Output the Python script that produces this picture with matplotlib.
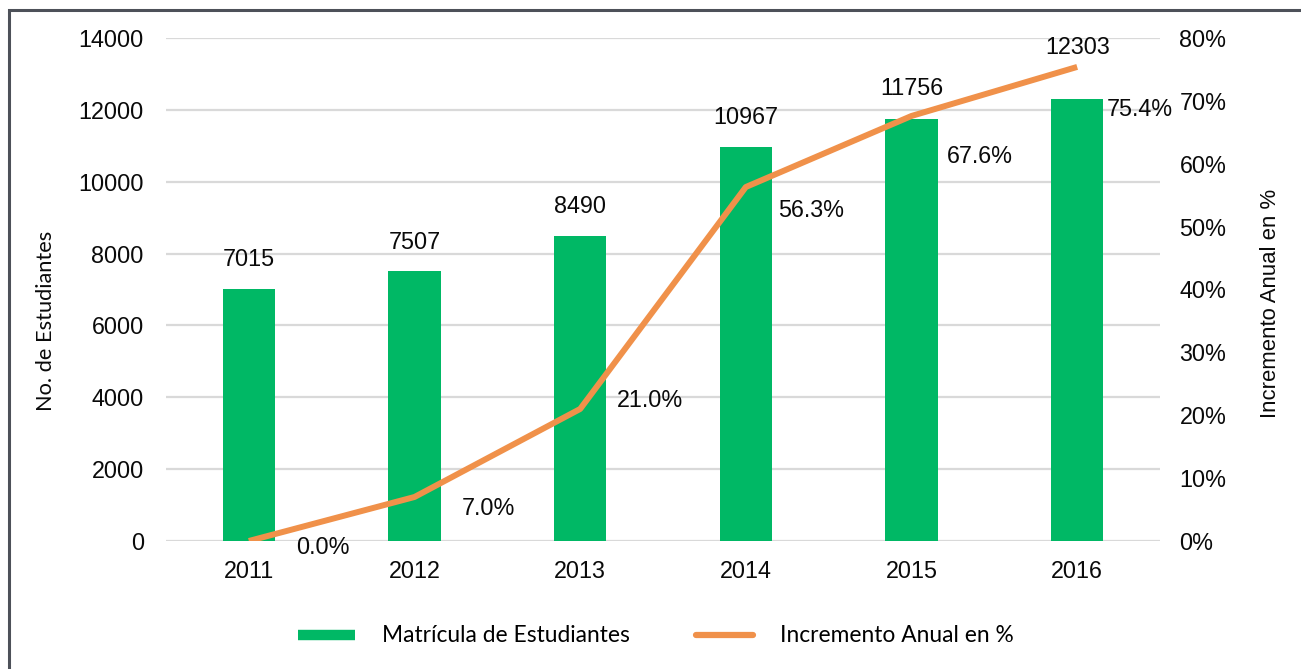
import matplotlib
matplotlib.use("Agg")
import matplotlib.pyplot as plt
from matplotlib.lines import Line2D
from matplotlib.patches import Rectangle

# datos
anios = ["2011", "2012", "2013", "2014", "2015", "2016"]
matricula = [7015, 7507, 8490, 10967, 11756, 12303]
incremento = [0.0, 7.0, 21.0, 56.3, 67.6, 75.4]

GREEN, ORANGE, GRID, TXT = "#00B865", "#F0914A", "#D9D9D9", "#0A0A0A"
ARIAL = "Liberation Sans"
CALIBRI = "Lato"

# desplazamientos de etiquetas (puntos)
bar_dy = [21, 21, 21, 21, 22, 37]
pct_off = [(53, -5), (53, -8), (50, 6), (47, -17), (49, -29), (45, -31)]

fig = plt.figure(figsize=(13.01, 6.69), dpi=100)
ax = fig.add_axes([166 / 1301, 1 - 541 / 669, 994 / 1301, 503 / 669])
ax2 = ax.twinx()

x = range(len(anios))
bars = ax.bar(x, matricula, width=0.315, color=GREEN, zorder=2)
ax.set_ylim(0, 14000)
ax.set_xlim(-0.5, 5.5)
ax.set_yticks(range(0, 14001, 2000))
ax.grid(axis="y", color=GRID, lw=1.6, zorder=0)
ax.set_axisbelow(True)
ax.set_xticks(list(x))
ax.set_xticklabels(anios)
ax.tick_params(axis="both", length=0, labelsize=16.8, colors=TXT)
ax.tick_params(axis="x", pad=14)
ax.tick_params(axis="y", pad=16)
for lab in ax.get_xticklabels() + ax.get_yticklabels():
    lab.set_fontfamily(ARIAL)
for b, v, dy in zip(bars, matricula, bar_dy):
    ax.annotate(str(v), (b.get_x() + b.get_width() / 2, v), xytext=(0, dy),
                textcoords="offset points", ha="center", va="center",
                fontsize=16.8, family=ARIAL, color=TXT)

ax2.plot(list(x), incremento, color=ORANGE, lw=4.3, solid_capstyle="butt", zorder=3)
ax2.set_ylim(0, 80)
ax2.set_yticks(range(0, 81, 10))
ax2.set_yticklabels([f"{v}%" for v in range(0, 81, 10)])
ax2.tick_params(axis="y", length=0, labelsize=16.8, colors=TXT, pad=14)
for lab in ax2.get_yticklabels():
    lab.set_fontfamily(ARIAL)
for xi, v, (dx, dy) in zip(x, incremento, pct_off):
    ax2.annotate(f"{v:.1f}%", (xi, v), xytext=(dx, dy), textcoords="offset points",
                 ha="center", va="center", fontsize=16.8, family=ARIAL, color=TXT)

for a in (ax, ax2):
    for s in a.spines.values():
        s.set_visible(False)

fig.text(46 / 1301, 1 - 321 / 669, "No. de Estudiantes", rotation=90,
         ha="center", va="center", fontsize=15.7, family=CALIBRI, color=TXT)
fig.text(1271 / 1301, 1 - 303 / 669, "Incremento Anual en %", rotation=90,
         ha="center", va="center", fontsize=15.9, family=ARIAL, color=TXT)

handles = [Line2D([], [], color=GREEN, lw=7.5, solid_capstyle="butt"),
           Line2D([], [], color=ORANGE, lw=4.5, solid_capstyle="round")]
fig.legend(handles, ["Matrícula de Estudiantes", "Incremento Anual en %"],
           loc="center", bbox_to_anchor=(0.504, 1 - 636 / 669), ncol=2,
           frameon=False, prop={"family": CALIBRI, "size": 16.4},
           handlelength=2.5, handletextpad=1.2, columnspacing=2.9)

fig.add_artist(Rectangle((9 / 1301, -0.1), 1.2, 1.1 - 10 / 669, transform=fig.transFigure,
                         fill=False, edgecolor="#4D5159", lw=2.2))

fig.savefig("out.png", dpi=100)
